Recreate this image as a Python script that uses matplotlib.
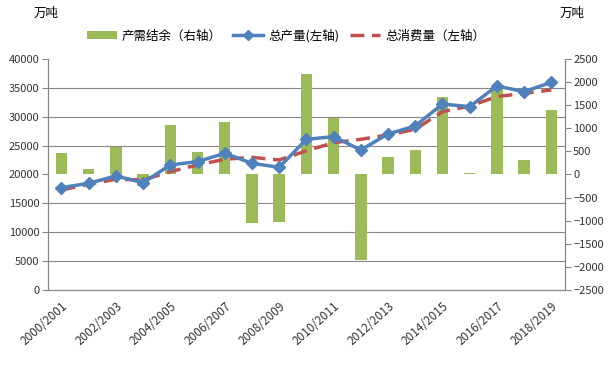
import matplotlib
matplotlib.use('Agg')
import matplotlib.pyplot as plt
from matplotlib.lines import Line2D
from matplotlib.patches import Patch

plt.rcParams['font.family'] = ['Noto Sans CJK SC', 'DejaVu Sans']

# dados
anos = ['2000/2001', '2001/2002', '2002/2003', '2003/2004', '2004/2005', '2005/2006',
        '2006/2007', '2007/2008', '2008/2009', '2009/2010', '2010/2011', '2011/2012',
        '2012/2013', '2013/2014', '2014/2015', '2015/2016', '2016/2017', '2017/2018',
        '2018/2019']
saldo = [465, 120, 595, -240, 1070, 487, 1136, -1050, -1028, 2175, 1217, -1850,
         385, 530, 1685, 25, 1915, 314, 1396]
producao = [17720, 18470, 19740, 18580, 21645, 22220, 23670, 21930, 21240, 26090,
            26550, 24240, 27010, 28400, 32200, 31740, 35320, 34340, 35960]
consumo = [17320, 18300, 19170, 19050, 20480, 21650, 22630, 22970, 22510, 24100,
           25500, 26090, 26840, 27820, 30870, 31860, 33480, 34050, 34630]

verde = '#9BBB59'
azul = '#4F81BD'
vermelho = '#C0504D'
cinza = '#868686'

fig = plt.figure(figsize=(6.14, 3.83), dpi=100)
ax = fig.add_axes([0.078, 0.243, 0.842, 0.603])
ax2 = ax.twinx()

x = list(range(len(anos)))
ticks_esq = list(range(0, 40001, 5000))

# barras no eixo direito
ax2.bar(x, saldo, width=0.42, color=verde, zorder=2)
ax2.set_ylim(-2500, 2500)
ax2.set_yticks(range(-2500, 2501, 500))
# grade nas mesmas alturas do eixo esquerdo
ax2.set_yticks([(v - 20000) / 8 for v in ticks_esq], minor=True)
ax2.tick_params(axis='y', which='minor', length=0)
ax2.yaxis.grid(True, which='minor', color=cinza, linewidth=0.8, zorder=0)
ax2.set_axisbelow(True)

# linhas no eixo esquerdo, desenhadas por cima
ax.set_zorder(ax2.get_zorder() + 1)
ax.patch.set_visible(False)
ax.plot(x, consumo, color=vermelho, linewidth=2.5, dashes=(4, 2.2), zorder=3)
ax.plot(x, producao, color=azul, linewidth=2.5, marker='D', markersize=6, zorder=4)
ax.set_ylim(0, 40000)
ax.set_yticks(ticks_esq)
ax.set_xlim(-0.5, len(anos) - 0.5)

ax.set_xticks([i - 0.5 for i in range(len(anos) + 1)])
ax.set_xticklabels([])
ax.set_xticks(x[::2], minor=True)
ax.set_xticklabels(anos[::2], minor=True, rotation=42, ha='right', va='top',
                   rotation_mode='anchor', fontsize=8.5, color='#333333')
ax.tick_params(axis='x', which='minor', length=0, pad=7)
ax.tick_params(axis='x', which='major', length=4, color=cinza)

for a in (ax, ax2):
    a.spines['top'].set_visible(False)
    for s in ('left', 'right', 'bottom'):
        a.spines[s].set_color(cinza)
    a.tick_params(axis='y', which='major', labelsize=8, length=4, color=cinza, pad=2,
                  labelcolor='#333333')
ax2.set_xticks([])

fig.text(0.054, 0.966, '万吨', fontsize=9, va='center')
fig.text(0.912, 0.966, '万吨', fontsize=9, va='center')

handles = [Patch(facecolor=verde),
           Line2D([], [], color=azul, linewidth=2.5, marker='D', markersize=5),
           Line2D([], [], color=vermelho, linewidth=2.5, dashes=(4, 2.2))]
labels = ['产需结余（右轴）', '总产量(左轴)', '总消费量（左轴）']
fig.legend(handles, labels, loc='center', bbox_to_anchor=(0.466, 0.907), ncol=3,
           frameon=False, fontsize=9, handlelength=2.4, columnspacing=0.9,
           handletextpad=0.4)

fig.savefig('out.png', dpi=100)
